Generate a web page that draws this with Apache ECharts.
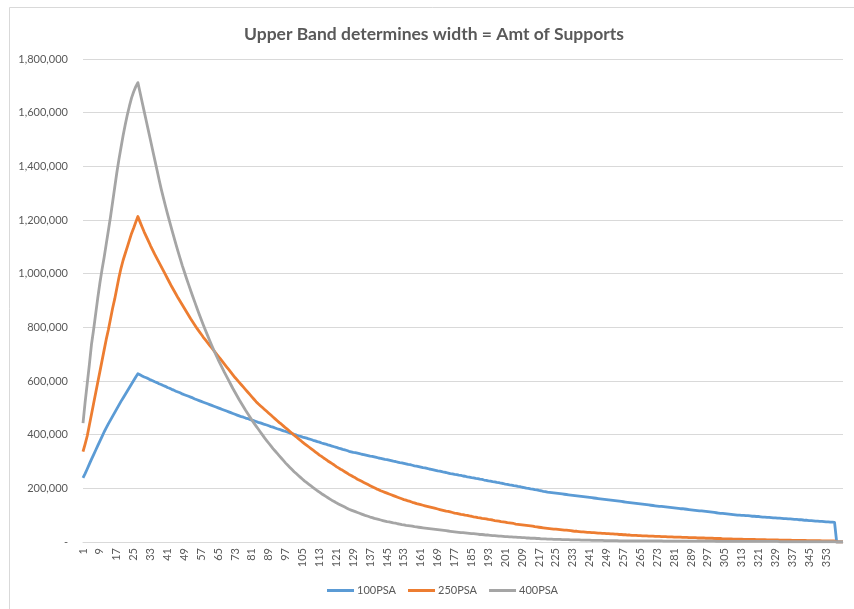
<!DOCTYPE html>
<html>
<head>
<meta charset="utf-8">
<script src="https://cdn.jsdelivr.net/npm/echarts@6/dist/echarts.min.js"></script>
<style>
html,body{margin:0;padding:0;background:#fff;}
#chart{width:854px;height:609px;}
</style>
</head>
<body>
<div id="chart"></div>
<script>
const titleText = "Upper Band determines width = Amt of Supports";
const seriesNames = ["100PSA", "250PSA", "400PSA"];
const yTicks = [0, 200000, 400000, 600000, 800000, 1000000, 1200000, 1400000, 1600000, 1800000];

const categories = [1,2,3,4,5,6,7,8,9,10,11,12,13,14,15,16,17,18,19,20,21,22,23,24,25,26,27,28,29,30,31,32,33,34,35,36,37,38,39,40,41,42,43,44,45,46,47,48,49,50,51,52,53,54,55,56,57,58,59,60,61,62,63,64,65,66,67,68,69,70,71,72,73,74,75,76,77,78,79,80,81,82,83,84,85,86,87,88,89,90,91,92,93,94,95,96,97,98,99,100,101,102,103,104,105,106,107,108,109,110,111,112,113,114,115,116,117,118,119,120,121,122,123,124,125,126,127,128,129,130,131,132,133,134,135,136,137,138,139,140,141,142,143,144,145,146,147,148,149,150,151,152,153,154,155,156,157,158,159,160,161,162,163,164,165,166,167,168,169,170,171,172,173,174,175,176,177,178,179,180,181,182,183,184,185,186,187,188,189,190,191,192,193,194,195,196,197,198,199,200,201,202,203,204,205,206,207,208,209,210,211,212,213,214,215,216,217,218,219,220,221,222,223,224,225,226,227,228,229,230,231,232,233,234,235,236,237,238,239,240,241,242,243,244,245,246,247,248,249,250,251,252,253,254,255,256,257,258,259,260,261,262,263,264,265,266,267,268,269,270,271,272,273,274,275,276,277,278,279,280,281,282,283,284,285,286,287,288,289,290,291,292,293,294,295,296,297,298,299,300,301,302,303,304,305,306,307,308,309,310,311,312,313,314,315,316,317,318,319,320,321,322,323,324,325,326,327,328,329,330,331,332,333,334,335,336,337,338,339,340,341,342,343,344,345,346,347,348,349,350,351,352,353,354,355,356,357,358,359,360,361];

const psa100 = [
239000,255000,272000,290000,308000,325000,342000,359000,376000,393000,
410000,425000,440000,454000,468000,482000,496000,510000,524000,537000,
550000,563000,576000,589000,602000,615000,627000,
623000,619000,615000,612000,608000,604000,601000,597000,594000,590000,
587000,583000,580000,576000,573000,569000,566000,562000,559000,556000,
552000,549000,546000,
543000,540000,537000,533000,530000,527000,524000,521000,518000,515000,
512000,509000,506000,503000,500000,497000,494000,491000,488000,485000,
482000,479000,476000,473000,470000,467000,465000,462000,460000,457000,
454000,452000,449000,446000,444000,441000,438000,436000,433000,430000,
428000,425000,422000,420000,417000,414000,412000,409000,406000,
404000,401000,399000,396000,394000,391000,389000,387000,384000,382000,
379000,377000,374000,372000,369000,367000,365000,362000,360000,357000,
355000,353000,350000,348000,345000,343000,341000,338000,
336000,334000,333000,331000,329000,327000,326000,324000,322000,320000,
319000,317000,315000,313000,312000,310000,308000,307000,305000,303000,
301000,300000,298000,296000,295000,293000,291000,289000,288000,286000,
284000,283000,281000,279000,277000,276000,274000,272000,271000,269000,
267000,265000,264000,262000,260000,259000,257000,255000,
254000,252000,251000,249000,248000,246000,245000,243000,242000,240000,
239000,237000,236000,234000,233000,231000,230000,228000,227000,225000,
224000,222000,221000,219000,218000,216000,215000,213000,212000,210000,
209000,207000,206000,204000,203000,201000,200000,198000,197000,195000,
194000,192000,191000,189000,188000,186000,185000,
184000,183000,182000,181000,180000,179000,178000,177000,176000,175000,
174000,173000,172000,171000,170000,169000,168000,167000,166000,165000,
164000,163000,162000,161000,160000,159000,158000,157000,156000,155000,
154000,153000,152000,151000,150000,149000,148000,147000,146000,145000,
144000,143000,142000,141000,140000,139000,138000,137000,
136000,135000,134000,133000,133000,132000,131000,130000,129000,128000,
127000,126000,125000,124000,124000,123000,122000,121000,120000,119000,
118000,117000,116000,116000,115000,114000,113000,112000,111000,110000,
109000,108000,107000,107000,106000,105000,104000,103000,102000,101000,
100000,100000,
99000,99000,98000,98000,97000,96000,96000,95000,95000,94000,
93000,93000,92000,92000,91000,90000,90000,89000,89000,88000,
87000,87000,86000,86000,85000,84000,84000,83000,83000,82000,
81000,81000,80000,80000,79000,78000,78000,77000,77000,76000,
75000,75000,74000,74000,73000,
0,0,0,0
];

const psa250 = [
337000,365000,395000,435000,475000,515000,555000,595000,635000,675000,
715000,755000,790000,830000,870000,905000,945000,985000,1020000,1050000,
1075000,1100000,1125000,1150000,1170000,1192000,1213000,
1193000,1174000,1155000,1138000,1121000,1104000,1088000,1072000,1057000,1042000,
1027000,1012000,997000,982000,967000,952000,938000,924000,910000,897000,
884000,871000,858000,845000,832000,820000,808000,796000,785000,774000,
763000,753000,743000,733000,723000,713000,703000,693000,683000,673000,
663000,653000,643000,633000,623000,613000,604000,595000,586000,577000,
568000,559000,550000,541000,532000,523000,515000,508000,501000,494000,
487000,480000,473000,466000,459000,452000,445000,439000,432000,425000,
419000,412000,
405000,398000,392000,385000,379000,372000,366000,360000,354000,348000,
342000,336000,330000,324000,319000,313000,308000,302000,297000,292000,
287000,281000,276000,271000,267000,262000,257000,252000,
248000,243000,239000,234000,230000,226000,222000,218000,214000,210000,206000,202000,198000,195000,191000,188000,
185000,182000,179000,176000,173000,170000,167000,164000,161000,158000,156000,153000,151000,148000,146000,143000,
141000,139000,137000,135000,133000,131000,129000,127000,125000,123000,121000,119000,117000,115000,114000,112000,
110000,108000,107000,105000,103000,102000,100000,99000,97000,96000,94000,93000,91000,90000,88000,87000,
86000,84000,83000,82000,80000,79000,78000,76000,75000,74000,72000,71000,70000,69000,67000,
66000,65000,64000,63000,62000,61000,60000,59000,57000,56000,55000,54000,53000,52000,51000,50000,
49000,48000,48000,47000,46000,45000,44000,44000,43000,42000,41000,40000,40000,39000,38000,38000,
37000,36000,36000,35000,35000,34000,33000,33000,32000,32000,31000,31000,30000,30000,29000,29000,
28000,28000,27000,27000,26000,26000,25000,25000,25000,24000,24000,23000,23000,23000,22000,22000,
22000,21000,21000,21000,20000,20000,20000,19000,19000,19000,18000,18000,18000,18000,17000,17000,
17000,16000,16000,16000,16000,15000,15000,15000,15000,14000,14000,14000,14000,13000,13000,13000,
13000,12000,12000,12000,12000,12000,11000,11000,11000,11000,11000,10000,10000,10000,10000,10000,
10000,9000,9000,9000,9000,9000,8000,8000,8000,8000,8000,8000,7000,7000,7000,7000,
7000,7000,6000,6000,6000,6000,6000,6000,6000,5000,5000,5000,5000,5000,5000,5000,4000,4000,4000,4000,4000,4000,4000,
0,0,0,0
];

const psa400 = [
443000,520000,590000,660000,735000,790000,850000,910000,965000,1015000,
1060000,1110000,1160000,1210000,1265000,1320000,1375000,1425000,1470000,1515000,
1555000,1592000,1625000,1655000,1678000,1697000,1712000,
1676000,1640000,1604000,1568000,1532000,1496000,1460000,1424000,1388000,1352000,
1317000,1285000,1254000,1224000,1195000,1166000,1138000,1110000,1083000,1057000,
1031000,1007000,983000,960000,937000,915000,893000,871000,850000,829000,
809000,789000,770000,751000,732000,714000,697000,680000,664000,648000,
632000,617000,602000,587000,572000,558000,544000,530000,517000,504000,
491000,479000,467000,455000,443000,432000,421000,410000,399000,388000,
378000,368000,358000,348000,339000,330000,321000,312000,303000,294000,
286000,278000,270000,262000,255000,248000,241000,234000,227000,221000,
215000,209000,203000,197000,191000,
186000,180000,175000,170000,165000,160000,155000,151000,146000,142000,138000,134000,130000,126000,122000,
119000,116000,113000,110000,107000,104000,101000,98000,96000,93000,91000,88000,86000,84000,82000,80000,
78000,76000,75000,73000,71000,70000,68000,67000,65000,64000,62000,61000,60000,59000,57000,56000,
55000,54000,53000,52000,51000,50000,49000,48000,47000,46000,45000,44000,43000,42000,41000,40000,
39000,38000,37000,36000,35000,35000,34000,33000,32000,31000,31000,30000,29000,28000,28000,27000,
26000,26000,25000,24000,24000,23000,22000,22000,21000,20000,20000,19000,19000,18000,18000,
17000,17000,16000,16000,15000,15000,14000,14000,14000,13000,13000,12000,12000,12000,11000,11000,
11000,10000,10000,10000,10000,9000,9000,9000,9000,8000,8000,8000,8000,8000,7000,7000,7000,7000,7000,6000,6000,6000,6000,6000,6000,5000,5000,5000,5000,5000,5000,5000,
4000,4000,4000,4000,4000,4000,4000,4000,4000,4000,4000,4000,4000,4000,4000,4000,4000,4000,4000,4000,4000,
3000,3000,3000,3000,3000,3000,3000,3000,3000,3000,3000,3000,3000,3000,3000,3000,3000,3000,3000,3000,3000,3000,3000,3000,3000,
2000,2000,2000,2000,2000,2000,2000,2000,2000,2000,2000,2000,2000,2000,2000,2000,2000,2000,2000,2000,2000,2000,2000,2000,2000,2000,2000,2000,2000,2000,
1000,1000,1000,1000,1000,1000,1000,1000,1000,1000,1000,1000,1000,1000,1000,1000,1000,1000,1000,1000,1000,1000,1000,1000,1000,1000,1000,
0,0,0,0
];

const colors = ["#5B9BD5", "#ED7D31", "#A5A5A5"];
const seriesData = [psa100, psa250, psa400];
const FONT = "Lato, 'Open Sans', sans-serif";
const TXT = "#595959";

const chart = echarts.init(document.getElementById("chart"), null, {renderer: "canvas"});

function fmtY(v) {
  if (v === 0) return "-";
  return v.toString().replace(/\B(?=(\d{3})+(?!\d))/g, ",");
}

chart.setOption({
  animation: false,
  backgroundColor: "#ffffff",
  color: colors,
  graphic: [{
    type: "rect",
    shape: {x: 9.5, y: 7.5, width: 900, height: 700},
    style: {fill: "none", stroke: "#d9d9d9", lineWidth: 1},
    silent: true
  }],
  title: {
    text: titleText,
    left: 239,
    top: 20,
    textStyle: {fontFamily: FONT, fontSize: 17.5, fontWeight: "bold", color: TXT}
  },
  legend: {
    data: seriesNames,
    bottom: 8,
    left: 322,
    icon: "rect",
    itemWidth: 27,
    itemHeight: 3,
    itemGap: 12,
    textStyle: {fontFamily: FONT, fontSize: 11, color: TXT, padding: [0, 0, 0, -2]}
  },
  grid: {left: 83, right: 11, top: 59, bottom: 67, containLabel: false},
  xAxis: {
    type: "category",
    data: categories,
    boundaryGap: false,
    axisLine: {show: true, lineStyle: {color: "#d9d9d9", width: 1}},
    axisTick: {show: false},
    splitLine: {show: false},
    axisLabel: {
      rotate: 90,
      interval: function (index) { return index % 8 === 0 && index < 360; },
      fontFamily: FONT,
      fontSize: 11,
      color: TXT,
      margin: 6
    }
  },
  yAxis: {
    type: "value",
    min: yTicks[0],
    max: yTicks[yTicks.length - 1],
    interval: yTicks[1] - yTicks[0],
    axisLine: {show: false},
    axisTick: {show: false},
    splitLine: {lineStyle: {color: "#d9d9d9", width: 1}},
    axisLabel: {
      formatter: fmtY,
      fontFamily: FONT,
      fontSize: 11,
      color: TXT,
      margin: 15
    }
  },
  series: seriesNames.map(function (name, i) {
    return {
      name: name,
      type: "line",
      data: seriesData[i],
      showSymbol: false,
      symbol: "none",
      lineStyle: {width: 2.8, color: colors[i], join: "round"},
      itemStyle: {color: colors[i]},
      z: 2 + i
    };
  })
});
</script>
</body>
</html>
